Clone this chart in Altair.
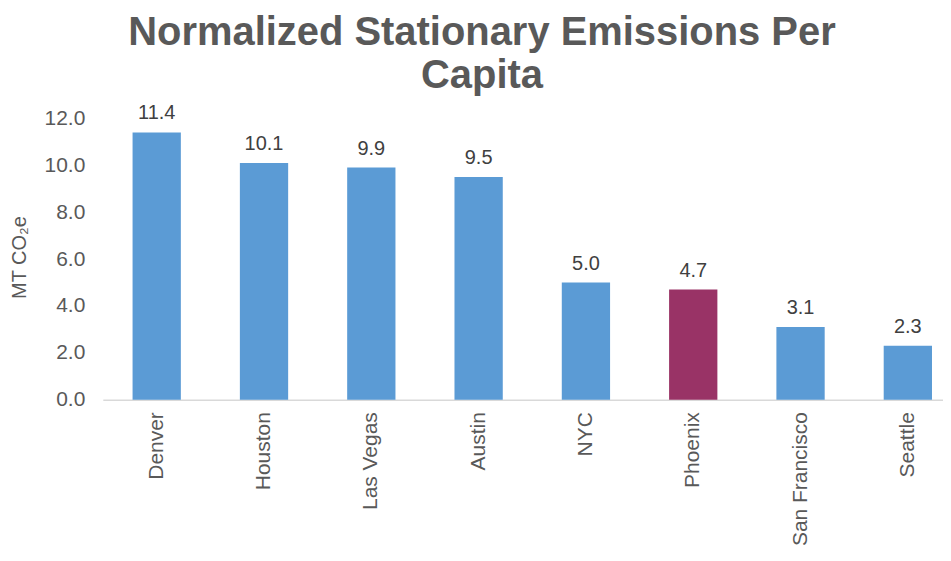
import altair as alt
import pandas as pd

cities = ["Denver", "Houston", "Las Vegas", "Austin", "NYC", "Phoenix", "San Francisco", "Seattle"]
values = [11.4, 10.1, 9.9, 9.5, 5.0, 4.7, 3.1, 2.3]
highlight = ["Phoenix"]
y_ticks = [0, 2, 4, 6, 8, 10, 12]

df = pd.DataFrame({
    "city": cities,
    "value": values,
    "group": ["highlight" if c in highlight else "base" for c in cities],
})

FONT = "Liberation Sans"
GRAY = "#595959"

x = alt.X(
    "city:N", sort=cities,
    scale=alt.Scale(paddingInner=0.55, paddingOuter=0.19, align=0.73),
    axis=alt.Axis(title=None, labelAngle=-90, labelFontSize=21, labelColor=GRAY,
                  labelFont=FONT, labelPadding=12, ticks=False,
                  domainColor="#d9d9d9", domainWidth=1.5),
)
y = alt.Y(
    "value:Q",
    scale=alt.Scale(domain=[0, 12], nice=False),
    axis=alt.Axis(values=y_ticks, format=".1f", grid=False, domain=False, ticks=False,
                  labelFontSize=21, labelColor=GRAY, labelFont=FONT, labelPadding=18,
                  title="MT CO₂e", titleFont=FONT, titleFontSize=20, titleFontWeight="normal",
                  titleColor=GRAY, titleX=-83, titleY=139, titleAngle=270,
                  titleAlign="center", titleBaseline="middle"),
)

bars = alt.Chart(df).mark_bar().encode(
    x=x, y=y,
    color=alt.Color("group:N", scale=alt.Scale(domain=["base", "highlight"],
                                               range=["#5B9BD5", "#993366"]), legend=None),
)
labels = alt.Chart(df).mark_text(dy=-9, baseline="bottom", fontSize=20, color="#404040",
                                 font=FONT).encode(
    x=x, y=y, text=alt.Text("value:Q", format=".1f"),
)

chart = alt.layer(bars, labels).properties(
    width=842, height=282,
    title=alt.TitleParams(
        text=["Normalized Stationary Emissions Per", "Capita"],
        font=FONT, fontSize=40, fontWeight="bold", color=GRAY,
        lineHeight=43, anchor="middle", dx=-41, offset=8,
    ),
    padding={"left": 95, "top": 110, "right": 0, "bottom": 150},
    autosize=alt.AutoSizeParams(type="none"),
).configure_view(stroke=None)

chart.save("out.html", embed_options={"renderer": "svg", "actions": False})
